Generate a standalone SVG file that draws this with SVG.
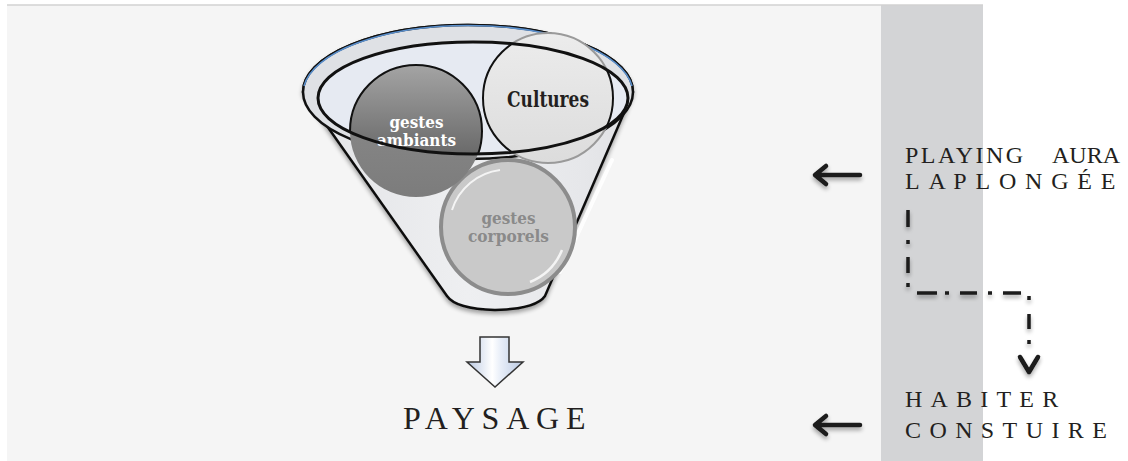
<svg xmlns="http://www.w3.org/2000/svg" width="1128" height="461" viewBox="0 0 1128 461">
<defs>
<style>
.lbl{font-family:"Liberation Serif","Times New Roman",serif;font-size:24px;fill:#231f20}
.ctx{font-family:"DejaVu Serif",Cambria,serif;font-weight:bold;font-size:17px;text-anchor:middle}
.arr{fill:none;stroke:#1a1a1a;stroke-width:4.5;stroke-linecap:round;stroke-linejoin:round}
.dd{stroke:#1a1a1a;stroke-width:3.5;fill:none}
</style>
<filter id="sh" x="-30%" y="-30%" width="160%" height="180%">
<feGaussianBlur in="SourceAlpha" stdDeviation="2"/>
<feOffset dx="0" dy="3" result="b"/>
<feComponentTransfer><feFuncA type="linear" slope="0.35"/></feComponentTransfer>
<feMerge><feMergeNode/><feMergeNode in="SourceGraphic"/></feMerge>
</filter>
<linearGradient id="body" x1="0" y1="0" x2="1" y2="0">
<stop offset="0" stop-color="#e2e3e6"/>
<stop offset="0.5" stop-color="#eeeff1"/>
<stop offset="0.85" stop-color="#e6e7ea"/>
<stop offset="1" stop-color="#dfe0e3"/>
</linearGradient>
<linearGradient id="amb" x1="0" y1="0" x2="0" y2="1">
<stop offset="0" stop-color="#a4a4a4"/>
<stop offset="1" stop-color="#4e4e4e"/>
</linearGradient>
<linearGradient id="ambo" x1="0" y1="0" x2="0" y2="1">
<stop offset="0" stop-color="#8e8e8e"/>
<stop offset="1" stop-color="#7c7c7c"/>
</linearGradient>
<linearGradient id="cul" x1="0" y1="0" x2="0" y2="1">
<stop offset="0" stop-color="#ececec"/>
<stop offset="1" stop-color="#dcdcdc"/>
</linearGradient>
<linearGradient id="dn" x1="0" y1="0" x2="1" y2="0">
<stop offset="0" stop-color="#b9c8e2"/>
<stop offset="0.45" stop-color="#ffffff"/>
<stop offset="0.6" stop-color="#e8eef8"/>
<stop offset="1" stop-color="#b9c8e2"/>
</linearGradient>
<clipPath id="inE"><ellipse cx="473" cy="98" rx="155" ry="56"/></clipPath>
<clipPath id="outE"><path clip-rule="evenodd" d="M0,0H1128V461H0Z M318,98 a155,56 0 1,0 310,0 a155,56 0 1,0 -310,0Z"/></clipPath>
</defs>

<rect width="1128" height="461" fill="#ffffff"/>
<rect x="7" y="5" width="874" height="456" fill="#f5f5f5"/>
<rect x="881" y="5" width="102" height="456" fill="#d3d4d6"/>
<line x1="7" y1="5" x2="983" y2="5" stroke="#d2d2d2" stroke-width="1.5"/>

<g id="funnel">
<path d="M303,92 L447,296 Q456,309 495,310 Q536,309 545,296 L633,92 A165,67 0 0,0 303,92 Z" fill="url(#body)" stroke="#111" stroke-width="2.5" filter="url(#sh)"/>
<path d="M612,160 L560,272" stroke="#ffffff" stroke-width="4" stroke-linecap="round" opacity="0.9"/>
<ellipse cx="468" cy="92" rx="165" ry="67" fill="#dfe1e5" stroke="#111" stroke-width="2.5"/>
<path d="M304,88 A165,68 0 0,1 632,88" fill="none" stroke="#5a8fcc" stroke-width="1.5" transform="translate(0,-2)"/>
<ellipse cx="473" cy="98" rx="155" ry="56" fill="#e6eaf2"/>
</g>

<g id="gestes-corporels">
<circle cx="508" cy="227" r="67" fill="#c9c9c9" stroke="#8c8c8c" stroke-width="4"/>
<path d="M452,210 A58,58 0 0,1 500,170" fill="none" stroke="#ffffff" stroke-width="2" opacity="0.8"/>
<path d="M562,250 A58,58 0 0,1 530,282" fill="none" stroke="#ffffff" stroke-width="2.5" opacity="0.8"/>
<text class="ctx" x="508.5" y="224" fill="#8a8a8a" textLength="54" lengthAdjust="spacingAndGlyphs">gestes</text>
<text class="ctx" x="508.5" y="242" fill="#8a8a8a" textLength="81" lengthAdjust="spacingAndGlyphs">corporels</text>
</g>

<g id="gestes-ambiants">
<circle cx="416" cy="131" r="66" fill="url(#ambo)" clip-path="url(#outE)"/>
<circle cx="416" cy="131" r="66" fill="url(#amb)" stroke="#111" stroke-width="2" clip-path="url(#inE)"/>
<text class="ctx" x="416.5" y="128" fill="#ffffff" textLength="54" lengthAdjust="spacingAndGlyphs">gestes</text>
<text class="ctx" x="416.5" y="146" fill="#ffffff" textLength="79" lengthAdjust="spacingAndGlyphs">ambiants</text>
</g>

<g id="cultures">
<circle cx="548" cy="98" r="65" fill="url(#cul)" stroke="#9a9a9a" stroke-width="2" clip-path="url(#outE)"/>
<circle cx="548" cy="98" r="65" fill="url(#cul)" stroke="#111" stroke-width="2" clip-path="url(#inE)"/>
<text class="ctx" x="548" y="107" fill="#231f20" style="font-size:22px" textLength="82" lengthAdjust="spacingAndGlyphs">Cultures</text>
</g>

<g id="rim">
<ellipse cx="473" cy="98" rx="155" ry="56" fill="none" stroke="#111" stroke-width="3"/>
</g>

<g id="paysage">
<text class="lbl" x="403" y="429" style="font-size:32px;letter-spacing:6.8px">PAYSAGE</text>
</g>

<g id="playing-aura">
<text class="lbl" x="905" y="163" style="letter-spacing:2.5px">PLAYING</text>
<text class="lbl" x="1120" y="163" text-anchor="end">AURA</text>
<text class="lbl" x="905" y="189" style="letter-spacing:8.8px;word-spacing:-14.8px">LA PLONGÉE</text>
</g>

<g id="habiter">
<text class="lbl" x="905" y="407" style="letter-spacing:8.2px">HABITER</text>
<text class="lbl" x="905" y="438" style="letter-spacing:8.4px">CONSTUIRE</text>
</g>

<g id="connectors">
<path d="M480,337 H509 V362 H523 L495,387 L467,362 H480 Z" fill="url(#dn)" stroke="#333" stroke-width="1.5" stroke-linejoin="miter"/>
<g filter="url(#sh)">
<path class="arr" d="M860,175 H816 M826,166 L815,175 L826,184"/>
<path class="arr" d="M860,425 H816 M826,416 L815,425 L826,434"/>
<g class="dd">
<line x1="908" y1="210" x2="908" y2="227"/>
<line x1="908" y1="240" x2="908" y2="244"/>
<line x1="908" y1="257" x2="908" y2="273"/>
<line x1="908" y1="283" x2="908" y2="287"/>
<line x1="917" y1="293" x2="937" y2="293"/>
<line x1="945" y1="293" x2="949" y2="293"/>
<line x1="960" y1="293" x2="977" y2="293"/>
<line x1="988" y1="293" x2="992" y2="293"/>
<line x1="1003" y1="293" x2="1021" y2="293"/>
<line x1="1029" y1="296" x2="1029" y2="300"/>
<line x1="1029" y1="314" x2="1029" y2="329"/>
<line x1="1029" y1="340" x2="1029" y2="344"/>
</g>
<path class="arr" d="M1020,357 L1029,372 L1038,357"/>
</g>
</g>
</svg>
